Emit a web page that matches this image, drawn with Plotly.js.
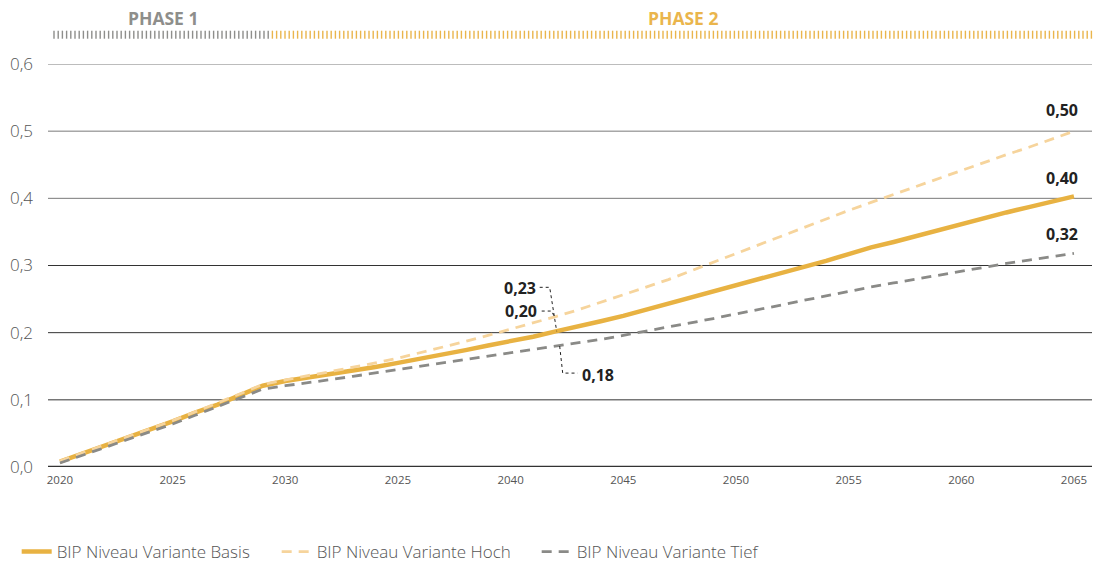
<!DOCTYPE html>
<html>
<head>
<meta charset="utf-8">
<script src="https://cdn.plot.ly/plotly-3.0.1.min.js"></script>
<style>html,body{margin:0;padding:0;background:#fff;}#chart{width:1101px;height:565px;}</style>
</head>
<body>
<div id="chart"></div>
<script>
// ---- data ----
var years = [];
for (var yr = 2020; yr <= 2065; yr++) years.push(yr);

var basis = [0.008,0.020,0.032,0.044,0.055,0.068,0.081,0.093,0.107,0.121,
             0.128,0.133,0.138,0.143,0.149,0.155,0.161,0.167,0.174,0.181,
             0.187,0.194,0.202,0.209,0.217,0.225,0.234,0.243,0.252,0.261,
             0.271,0.280,0.289,0.298,0.307,0.317,0.327,0.335,0.344,0.353,
             0.362,0.370,0.379,0.387,0.395,0.403];
var hoch  = [0.009,0.021,0.033,0.045,0.056,0.069,0.082,0.095,0.109,0.123,
             0.130,0.136,0.142,0.148,0.155,0.162,0.170,0.178,0.187,0.196,
             0.205,0.214,0.224,0.234,0.245,0.256,0.267,0.279,0.292,0.305,
             0.318,0.331,0.344,0.357,0.370,0.382,0.394,0.406,0.418,0.430,
             0.442,0.454,0.465,0.476,0.488,0.500];
var tief  = [0.006,0.017,0.029,0.041,0.052,0.064,0.077,0.090,0.103,0.116,
             0.121,0.125,0.130,0.135,0.140,0.145,0.149,0.154,0.159,0.164,
             0.169,0.174,0.180,0.185,0.190,0.196,0.202,0.208,0.214,0.221,
             0.228,0.234,0.241,0.248,0.255,0.262,0.268,0.274,0.280,0.286,
             0.292,0.298,0.303,0.308,0.313,0.318];

var seriesNames = ['BIP Niveau Variante Basis','BIP Niveau Variante Hoch','BIP Niveau Variante Tief'];
var xTickVals = [2020,2025,2030,2035,2040,2045,2050,2055,2060,2065];
var xTickLabels = ['2020','2025','2030','2025','2040','2045','2050','2055','2060','2065'];
var yTickVals = [0,0.1,0.2,0.3,0.4,0.5,0.6];
var yTickLabels = ['0,0','0,1','0,2','0,3','0,4','0,5','0,6'];
var phaseLabels = ['PHASE 1','PHASE 2'];
var phaseBoundaryYear = 2029.4;
var midYear = 2042;
var midLabels = ['0,23','0,20','0,18'];

// ---- styles ----
var cBasis = '#e8b242', cHoch = '#f6d49c', cTief = '#8a8a87';
var fmt = function(v){ return v.toFixed(2).replace('.', ','); };

var traces = [
  {x: years, y: basis, name: seriesNames[0], mode: 'lines', line: {color: cBasis, width: 4.5}},
  {x: years, y: hoch, name: seriesNames[1], mode: 'lines', line: {color: cHoch, width: 2.8, dash: '10px,7px'}},
  {x: years, y: tief, name: seriesNames[2], mode: 'lines', line: {color: cTief, width: 2.8, dash: '10px,7px'}}
];

var W = 1101, H = 565, mL = 48, mR = 9, mT = 64, mB = 98;
var pw = W - mL - mR, ph = H - mT - mB;
var xMin = 2019.47, xMax = 2065.8;
function pxToPaperX(px){ return (px - mL) / pw; }
function pxToPaperY(py){ return (H - mB - py) / ph; }
function yearToPx(yv){ return mL + (yv - xMin) / (xMax - xMin) * pw; }

var shapes = [];
// gridlines
yTickVals.forEach(function(v){
  if (v === 0) return;
  shapes.push({type:'line', xref:'paper', yref:'y', x0:0, x1:1, y0:v, y1:v,
    line:{color: v >= 0.4 ? '#7a7a7a' : '#333333', width:1}, layer:'below'});
});
// zero line
shapes.push({type:'line', xref:'paper', yref:'y', x0:0, x1:1, y0:0, y1:0,
  line:{color:'#333333', width:2.5}, layer:'above'});
// phase tick bar
var boundaryPx = yearToPx(phaseBoundaryYear);
for (var px = 54; px <= 1092.5; px += 4.2) {
  shapes.push({type:'line', xref:'paper', yref:'paper',
    x0: pxToPaperX(px), x1: pxToPaperX(px), y0: pxToPaperY(38.7), y1: pxToPaperY(30.7),
    line:{color: px < boundaryPx ? '#8e8e8b' : '#eab54c', width:1.4}});
}
var iMid = years.indexOf(midYear);
// leader lines (pixel offsets relative to data points)
function leader(yval, path){
  return {type:'path', xref:'x', yref:'y', xsizemode:'pixel', ysizemode:'pixel',
    xanchor: midYear, yanchor: yval, path: path,
    line:{color:'#222', width:1, dash:'dot'}};
}
shapes.push(leader(basis[iMid], 'M-16,44 L-6,44 L1,0'));
shapes.push(leader(hoch[iMid], 'M-14,5.5 L-4,5.5 L-1,-1'));
shapes.push(leader(tief[iMid], 'M4,0 L7,-27 L22,-27'));

var lblFont = {family:'Open Sans, sans-serif', size:16, color:'#222', weight:700};
var phaseFont = {family:'Open Sans, sans-serif', size:17.5, weight:700};
var n = years.length - 1;
var annotations = [
  {xref:'paper', yref:'paper', x: pxToPaperX(163), y: pxToPaperY(18), yanchor:'middle', xanchor:'center',
   text: phaseLabels[0], showarrow:false,
   font:Object.assign({color:'#8e8e8b'}, phaseFont)},
  {xref:'paper', yref:'paper', x: pxToPaperX(683), y: pxToPaperY(18), yanchor:'middle', xanchor:'center',
   text: phaseLabels[1], showarrow:false,
   font:Object.assign({color:'#eab54c'}, phaseFont)},
  {x: years[n], y: hoch[n], text: fmt(hoch[n]), showarrow:false, xanchor:'right', xshift:6, yshift:21, font: lblFont},
  {x: years[n], y: basis[n], text: fmt(basis[n]), showarrow:false, xanchor:'right', xshift:6, yshift:18, font: lblFont},
  {x: years[n], y: tief[n], text: fmt(tief[n]), showarrow:false, xanchor:'right', xshift:6, yshift:19, font: lblFont},
  {x: midYear, y: basis[iMid], text: midLabels[0], showarrow:false, xanchor:'right', xshift:-18, yshift:43, font: lblFont},
  {x: midYear, y: hoch[iMid], text: midLabels[1], showarrow:false, xanchor:'right', xshift:-17, yshift:5.5, font: lblFont},
  {x: midYear, y: tief[iMid], text: midLabels[2], showarrow:false, xanchor:'left', xshift:24, yshift:-29, font: lblFont}
];

var layout = {
  width: W, height: H,
  margin: {l: mL, r: mR, t: mT, b: mB, pad: 0, autoexpand: false},
  paper_bgcolor: '#fff', plot_bgcolor: '#fff',
  showlegend: true,
  legend: {orientation:'h', x:-0.03, xanchor:'left', y: pxToPaperY(552), yanchor:'middle',
    entrywidth: 215, entrywidthmode: 'pixels',
    font:{family:'Open Sans, sans-serif', size:17, color:'#555', weight:300}, bgcolor:'rgba(0,0,0,0)'},
  xaxis: {range:[xMin, xMax], tickmode:'array', tickvals: xTickVals, ticktext: xTickLabels,
    showgrid:false, zeroline:false, showline:false, ticks:'', automargin:false,
    tickfont:{family:'Open Sans, sans-serif', size:11.5, color:'#555'}, ticklabelstandoff: 4, fixedrange:true},
  yaxis: {range:[0, 0.6], tickmode:'array', tickvals: yTickVals, ticktext: yTickLabels,
    showgrid:false, zeroline:false, showline:false, ticks:'', automargin:false,
    tickfont:{family:'Open Sans, sans-serif', size:17, color:'#555', weight:300}, ticklabelstandoff: 14, fixedrange:true},
  shapes: shapes,
  annotations: annotations
};

Plotly.newPlot('chart', traces, layout, {displayModeBar:false, staticPlot:true});
</script>
</body>
</html>
